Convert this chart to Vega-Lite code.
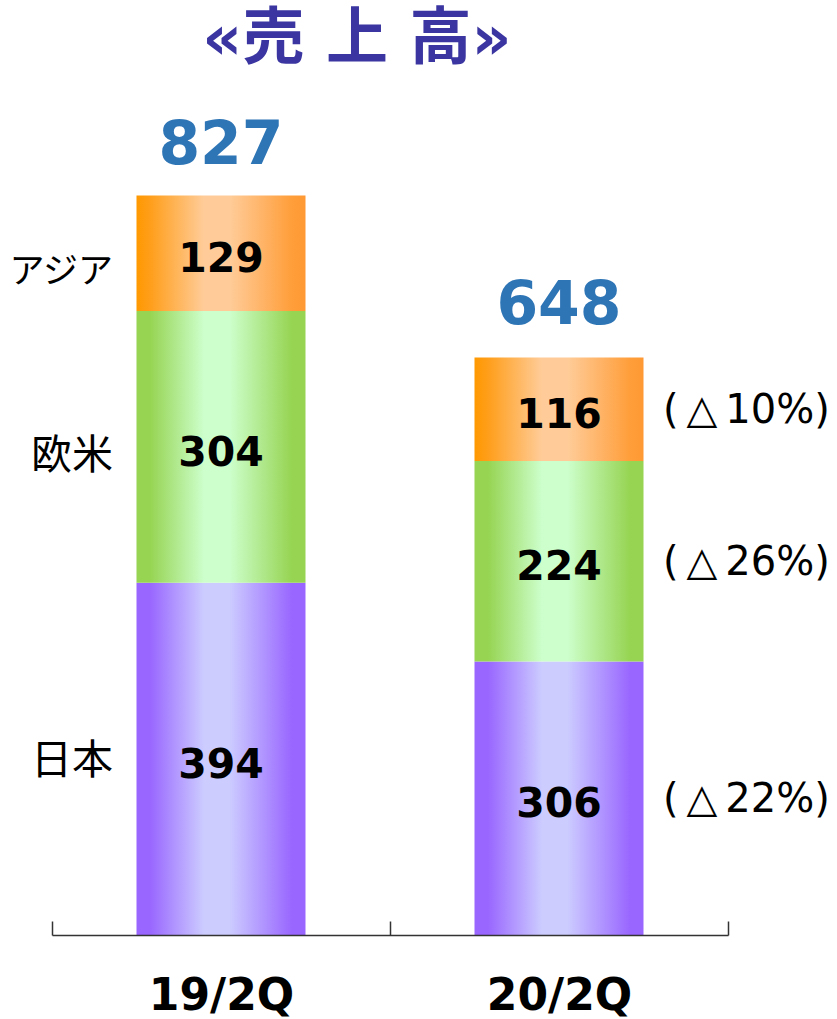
{
  "$schema": "https://vega.github.io/schema/vega-lite/v6.json",
  "width": 676,
  "height": 760,
  "autosize": {"type": "none"},
  "padding": {"left": 52, "top": 175, "right": 109, "bottom": 84},
  "background": "white",
  "config": {"view": {"stroke": null}},
  "title": {
    "text": "«売 上 高»",
    "font": "DejaVu Sans, Noto Sans CJK JP",
    "fontSize": 62,
    "fontWeight": "bold",
    "color": "#3A35A0",
    "anchor": "middle",
    "frame": "group",
    "dx": -33,
    "offset": 44
  },
  "datasets": {
    "sales": [
      {"period": "19/2Q", "region": "日本", "rank": 1, "value": 394, "change": ""},
      {"period": "19/2Q", "region": "欧米", "rank": 2, "value": 304, "change": ""},
      {"period": "19/2Q", "region": "アジア", "rank": 3, "value": 129, "change": ""},
      {"period": "20/2Q", "region": "日本", "rank": 1, "value": 306, "change": "(\u2009△\u200922%)"},
      {"period": "20/2Q", "region": "欧米", "rank": 2, "value": 224, "change": "(\u2009△\u200926%)"},
      {"period": "20/2Q", "region": "アジア", "rank": 3, "value": 116, "change": "(\u2009△\u200910%)"}
    ],
    "totals": [
      {"period": "19/2Q", "total": 827},
      {"period": "20/2Q", "total": 648}
    ]
  },
  "encoding": {
    "x": {
      "field": "period",
      "type": "nominal",
      "sort": ["19/2Q", "20/2Q"],
      "scale": {"paddingInner": 0, "paddingOuter": 0},
      "axis": {
        "title": null,
        "labelAngle": 0,
        "labelFont": "DejaVu Sans",
        "labelFontWeight": "bold",
        "labelFontSize": 44,
        "labelColor": "#000000",
        "labelPadding": 53,
        "domainColor": "#333333",
        "domainWidth": 1.5,
        "tickColor": "#333333",
        "tickWidth": 1.5,
        "tickSize": -14,
        "tickBand": "extent",
        "grid": false,
        "zindex": 1
      }
    }
  },
  "layer": [
    {
      "data": {"name": "sales"},
      "transform": [
        {"stack": "value", "groupby": ["period"], "sort": [{"field": "rank", "order": "ascending"}], "as": ["y0", "y1"]}
      ],
      "layer": [
        {
          "transform": [{"filter": "datum.region === '日本'"}],
          "mark": {
            "type": "bar",
            "width": {"band": 0.5},
            "fill": {"gradient": "linear", "x1": 0, "y1": 0, "x2": 1, "y2": 0,
              "stops": [
                {"offset": 0, "color": "#9966FF"},
                {"offset": 0.08, "color": "#9966FF"},
                {"offset": 0.4, "color": "#CCCCFF"},
                {"offset": 0.55, "color": "#CCCCFF"},
                {"offset": 0.92, "color": "#9966FF"},
                {"offset": 1, "color": "#9966FF"}
              ]}
          },
          "encoding": {
            "y": {"field": "y0", "type": "quantitative", "scale": {"domain": [0, 850]}, "axis": null},
            "y2": {"field": "y1"}
          }
        },
        {
          "transform": [{"filter": "datum.region === '欧米'"}],
          "mark": {
            "type": "bar",
            "width": {"band": 0.5},
            "fill": {"gradient": "linear", "x1": 0, "y1": 0, "x2": 1, "y2": 0,
              "stops": [
                {"offset": 0, "color": "#96D452"},
                {"offset": 0.08, "color": "#96D452"},
                {"offset": 0.4, "color": "#CCFFCC"},
                {"offset": 0.55, "color": "#CCFFCC"},
                {"offset": 0.92, "color": "#96D452"},
                {"offset": 1, "color": "#96D452"}
              ]}
          },
          "encoding": {
            "y": {"field": "y0", "type": "quantitative", "scale": {"domain": [0, 850]}, "axis": null},
            "y2": {"field": "y1"}
          }
        },
        {
          "transform": [{"filter": "datum.region === 'アジア'"}],
          "mark": {
            "type": "bar",
            "width": {"band": 0.5},
            "fill": {"gradient": "linear", "x1": 0, "y1": 0, "x2": 1, "y2": 0,
              "stops": [
                {"offset": 0, "color": "#FF9900"},
                {"offset": 0.08, "color": "#FF9E1A"},
                {"offset": 0.4, "color": "#FFCC99"},
                {"offset": 0.55, "color": "#FFCC99"},
                {"offset": 0.92, "color": "#FF9E3A"},
                {"offset": 1, "color": "#FF9933"}
              ]}
          },
          "encoding": {
            "y": {"field": "y0", "type": "quantitative", "scale": {"domain": [0, 850]}, "axis": null},
            "y2": {"field": "y1"}
          }
        },
        {
          "transform": [
            {"fold": ["y0", "y1"], "as": ["edge", "pos"]},
            {"aggregate": [{"op": "mean", "field": "pos", "as": "mid"}], "groupby": ["period", "region", "value", "change"]}
          ],
          "layer": [
            {
              "mark": {"type": "text", "font": "DejaVu Sans", "fontWeight": "bold", "fontSize": 41, "color": "#000000", "baseline": "middle", "dy": 7},
              "encoding": {
                "y": {"field": "mid", "type": "quantitative", "scale": {"domain": [0, 850]}, "axis": null},
                "text": {"field": "value", "type": "quantitative"}
              }
            },
            {
              "transform": [{"filter": "datum.period === '20/2Q'"}],
              "mark": {"type": "text", "font": "DejaVu Sans", "fontSize": 40, "color": "#000000", "baseline": "middle", "align": "left", "dx": 104, "dy": 2},
              "encoding": {
                "y": {"field": "mid", "type": "quantitative", "scale": {"domain": [0, 850]}, "axis": null},
                "text": {"field": "change", "type": "nominal"}
              }
            },
            {
              "transform": [{"filter": "datum.period === '19/2Q' && datum.region === 'アジア'"}],
              "mark": {"type": "text", "font": "Noto Sans CJK JP", "fontSize": 35, "color": "#000000", "baseline": "middle", "align": "right", "dx": -108, "dy": 19},
              "encoding": {
                "y": {"field": "mid", "type": "quantitative", "scale": {"domain": [0, 850]}, "axis": null},
                "text": {"field": "region", "type": "nominal"}
              }
            },
            {
              "transform": [{"filter": "datum.period === '19/2Q' && datum.region === '欧米'"}],
              "mark": {"type": "text", "font": "Noto Sans CJK JP", "fontSize": 41, "color": "#000000", "baseline": "middle", "align": "right", "dx": -108, "dy": 10},
              "encoding": {
                "y": {"field": "mid", "type": "quantitative", "scale": {"domain": [0, 850]}, "axis": null},
                "text": {"field": "region", "type": "nominal"}
              }
            },
            {
              "transform": [{"filter": "datum.period === '19/2Q' && datum.region === '日本'"}],
              "mark": {"type": "text", "font": "Noto Sans CJK JP", "fontSize": 41, "color": "#000000", "baseline": "middle", "align": "right", "dx": -108, "dy": 3},
              "encoding": {
                "y": {"field": "mid", "type": "quantitative", "scale": {"domain": [0, 850]}, "axis": null},
                "text": {"field": "region", "type": "nominal"}
              }
            }
          ]
        }
      ]
    },
    {
      "data": {"name": "totals"},
      "mark": {"type": "text", "font": "DejaVu Sans", "fontWeight": "bold", "fontSize": 60, "color": "#2E75B6", "baseline": "alphabetic", "dy": -32},
      "encoding": {
        "y": {"field": "total", "type": "quantitative", "scale": {"domain": [0, 850]}, "axis": null},
        "text": {"field": "total", "type": "quantitative"}
      }
    }
  ]
}
